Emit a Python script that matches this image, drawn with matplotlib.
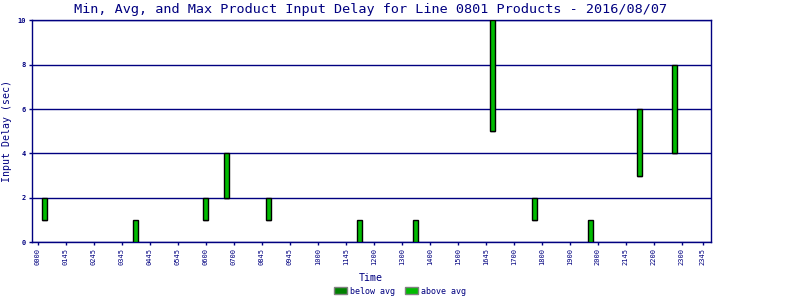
import matplotlib.pyplot as plt
from matplotlib.patches import Patch

# 15 minute slots, 0 = 00:00 ... 95 = 23:45
slots = [1, 14, 24, 27, 33, 46, 54, 65, 71, 79, 86, 91]
mins = [1, 0, 1, 2, 1, 0, 0, 5, 1, 0, 3, 4]
avgs = [1, 0, 1, 2, 1, 0, 0, 5, 1, 0, 3, 4]
maxs = [2, 1, 2, 4, 2, 1, 1, 10, 2, 1, 6, 8]

tick_slots = [0, 4, 8, 12, 16, 20, 24, 28, 32, 36, 40, 44, 48, 52, 56, 60,
              64, 68, 72, 76, 80, 84, 88, 92, 95]
tick_labels = ['0000', '0145', '0245', '0345', '0445', '0545', '0600', '0700',
               '0845', '0945', '1000', '1145', '1200', '1300', '1400', '1500',
               '1645', '1700', '1800', '1900', '2000', '2145', '2200', '2300', '2345']

navy = '#000080'
dark_green = '#008000'
light_green = '#00bb00'
mono = 'DejaVu Sans Mono'

fig = plt.figure(figsize=(8, 3), dpi=100)
ax = fig.add_axes([0.0396, 0.192, 0.8488, 0.741])

below = [a - m for a, m in zip(avgs, mins)]
above = [mx - a for mx, a in zip(maxs, avgs)]
ax.bar(slots, below, bottom=mins, width=0.72, color=dark_green,
       edgecolor='black', linewidth=1, zorder=3)
ax.bar(slots, above, bottom=avgs, width=0.72, color=light_green,
       edgecolor='black', linewidth=1, zorder=3)

ax.set_xlim(-0.86, 96.14)
ax.set_ylim(0, 10)
ax.set_yticks([0, 2, 4, 6, 8, 10])
ax.set_xticks(tick_slots)
ax.set_xticklabels(tick_labels, rotation=90, family=mono, fontsize=5, color=navy)
for lbl in ax.get_yticklabels():
    lbl.set_family(mono)
    lbl.set_fontsize(5)
    lbl.set_color(navy)
    lbl.set_fontweight('bold')
ax.tick_params(axis='both', length=2, width=1, color=navy, pad=2)
ax.grid(axis='y', color=navy, linewidth=1, zorder=1)
for s in ax.spines.values():
    s.set_color(navy)
    s.set_linewidth(1)

fig.text(0.4637, 0.97, 'Min, Avg, and Max Product Input Delay for Line 0801 Products - 2016/08/07',
         family=mono, fontsize=9.7, color=navy, ha='center', va='center')
ax.set_xlabel('Time', family=mono, fontsize=7.2, color=navy, labelpad=6)
ax.set_ylabel('Input Delay (sec)', family=mono, fontsize=7.1, color=navy)
ax.yaxis.set_label_coords(-0.0292, 0.5)

handles = [Patch(facecolor=dark_green, edgecolor='gray', label='below avg'),
           Patch(facecolor=light_green, edgecolor='gray', label='above avg')]
leg = fig.legend(handles=handles, loc='lower center', bbox_to_anchor=(0.5, -0.01),
                 ncol=2, frameon=False, prop={'family': mono, 'size': 6},
                 handlelength=1.6, handleheight=1.0, handletextpad=0.3,
                 columnspacing=1.2)
for t in leg.get_texts():
    t.set_color(navy)

fig.savefig('out.png', dpi=100)
